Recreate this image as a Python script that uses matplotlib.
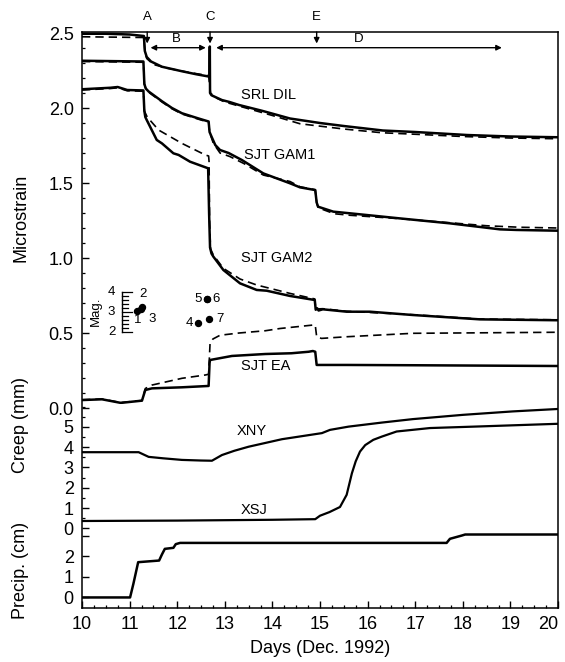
import numpy as np
import matplotlib.pyplot as plt
from matplotlib.transforms import ScaledTranslation

plt.rcParams['font.family'] = ['Liberation Sans', 'DejaVu Sans']

# ---- strain records (microstrain), solid = observed, dashed = corrected ----
srl_day = [10.0, 10.5, 11.0, 11.30, 11.32, 11.36, 11.45, 11.68, 12.1, 12.4, 12.66,
           12.68, 12.685, 12.69, 12.72, 12.94, 13.1, 13.3, 13.8, 14.37, 14.58, 15.0,
           15.5, 16.32, 17.0, 18.09, 19.0, 20.0]
srl_obs = [2.495, 2.495, 2.49, 2.48, 2.38, 2.34, 2.31, 2.275, 2.245, 2.225, 2.21,
           2.21, 2.41, 2.10, 2.085, 2.053, 2.04, 2.02, 1.98, 1.93, 1.92, 1.90,
           1.88, 1.85, 1.84, 1.82, 1.81, 1.805]
srl_cor_day = [10.0, 11.30, 11.32, 11.36, 11.5, 11.8, 12.2, 12.66, 12.70, 12.8, 13.0,
               13.5, 14.0, 14.58, 15.5, 16.3, 17.0, 18.0, 19.0, 20.0]
srl_cor = [2.475, 2.47, 2.38, 2.33, 2.29, 2.265, 2.24, 2.215, 2.10, 2.07, 2.04,
           1.995, 1.95, 1.895, 1.86, 1.835, 1.825, 1.81, 1.80, 1.795]

gam1_day = [10.0, 11.29, 11.31, 11.34, 11.40, 11.68, 11.89, 12.10, 12.45, 12.66, 12.68,
            12.72, 12.80, 12.90, 13.08, 13.36, 13.81, 14.37, 14.58, 14.90, 14.93, 14.96,
            15.28, 15.63, 16.68, 17.73, 18.78, 19.13, 20.0]
gam1_obs = [2.315, 2.31, 2.16, 2.13, 2.11, 2.045, 2.0, 1.965, 1.93, 1.91, 1.84,
            1.81, 1.753, 1.72, 1.70, 1.653, 1.564, 1.498, 1.471, 1.453, 1.37, 1.342,
            1.309, 1.298, 1.264, 1.231, 1.191, 1.187, 1.182]
gam1_cor_day = [10.0, 11.29, 11.31, 11.34, 11.40, 11.68, 11.89, 12.10, 12.45, 12.66, 12.68,
                12.76, 12.90, 13.11, 13.4, 13.81, 14.37, 14.58, 14.90, 14.93, 14.96,
                15.3, 15.63, 16.68, 17.73, 18.5, 19.2, 20.0]
gam1_cor = [2.31, 2.305, 2.16, 2.13, 2.105, 2.04, 1.995, 1.96, 1.925, 1.905, 1.84,
            1.764, 1.70, 1.676, 1.63, 1.553, 1.51, 1.475, 1.455, 1.37, 1.335,
            1.295, 1.285, 1.262, 1.235, 1.215, 1.205, 1.20]

gam2_day = [10.0, 10.6, 10.75, 10.95, 11.29, 11.31, 11.33, 11.36, 11.57, 11.68, 11.92,
            12.03, 12.27, 12.65, 12.67, 12.69, 12.72, 12.76, 12.97, 13.32, 13.67, 13.88,
            14.37, 14.89, 14.91, 14.94, 14.97, 15.06, 15.56, 16.05, 16.95, 18.36, 20.0]
gam2_obs = [2.125, 2.135, 2.14, 2.12, 2.117, 1.98, 1.94, 1.92, 1.787, 1.764, 1.698,
            1.687, 1.642, 1.598, 1.30, 1.07, 1.03, 1.009, 0.92, 0.831, 0.787, 0.782,
            0.747, 0.72, 0.655, 0.665, 0.650, 0.658, 0.642, 0.642, 0.62, 0.591, 0.585]
gam2_cor_day = [10.0, 10.6, 10.75, 10.95, 11.29, 11.31, 11.37, 11.61, 12.10, 12.59, 12.66,
                12.67, 12.68, 12.70, 12.76, 12.97, 13.32, 13.67, 14.37, 14.89, 14.91, 15.06,
                15.56, 16.95, 18.36, 20.0]
gam2_cor = [2.12, 2.13, 2.135, 2.115, 2.112, 1.98, 1.94, 1.853, 1.764, 1.687, 1.68,
            1.64, 1.25, 1.06, 1.02, 0.931, 0.86, 0.82, 0.764, 0.727, 0.66, 0.662,
            0.645, 0.622, 0.593, 0.588]

ea_day = [10.0, 10.42, 10.80, 10.84, 11.26, 11.30, 11.33, 11.47, 12.10, 12.66, 12.68,
          12.69, 13.15, 13.85, 14.40, 14.76, 14.85, 14.90, 14.93, 15.56, 17.0, 20.0]
ea_obs = [0.053, 0.058, 0.035, 0.035, 0.049, 0.09, 0.12, 0.131, 0.138, 0.147, 0.30,
          0.32, 0.347, 0.36, 0.365, 0.375, 0.38, 0.375, 0.287, 0.287, 0.285, 0.28]
ea_cor_day = [10.0, 10.42, 10.80, 10.84, 11.26, 11.33, 11.47, 12.10, 12.59, 12.66, 12.69,
              12.75, 12.9, 13.3, 13.85, 14.16, 14.85, 14.90, 14.93, 15.03, 15.56, 16.95, 20.0]
ea_cor = [0.055, 0.06, 0.037, 0.037, 0.05, 0.13, 0.153, 0.198, 0.22, 0.225, 0.43,
          0.46, 0.485, 0.50, 0.515, 0.53, 0.553, 0.553, 0.475, 0.464, 0.475, 0.498, 0.505]

# ---- creepmeters (mm) ----
xny_day = [10.0, 11.19, 11.40, 11.7, 12.1, 12.5, 12.73, 12.94, 13.2, 13.5, 14.2, 15.04,
           15.21, 15.6, 16.3, 16.95, 18.0, 19.05, 20.0]
xny_mm = [3.75, 3.75, 3.52, 3.45, 3.37, 3.34, 3.33, 3.61, 3.82, 4.02, 4.39, 4.69,
          4.85, 5.01, 5.21, 5.38, 5.59, 5.76, 5.88]
xsj_day = [10.0, 12.0, 14.0, 14.9, 15.0, 15.2, 15.42, 15.56, 15.67, 15.75, 15.84, 15.95,
           16.12, 16.3, 16.61, 17.31, 18.36, 20.0]
xsj_mm = [0.36, 0.38, 0.42, 0.45, 0.62, 0.80, 1.05, 1.65, 2.71, 3.3, 3.78, 4.1,
          4.36, 4.52, 4.77, 4.94, 5.02, 5.15]

# ---- precipitation (cm) ----
rain_day = [10.0, 11.01, 11.08, 11.18, 11.62, 11.68, 11.74, 11.92, 11.97, 12.06, 17.66,
            17.73, 17.98, 18.05, 20.0]
rain_cm = [0.0, 0.0, 0.67, 1.72, 1.80, 2.10, 2.37, 2.42, 2.60, 2.66, 2.66,
           2.86, 3.02, 3.07, 3.07]

# ---- earthquakes ----
eq_num = ['1', '2', '3', '4', '5', '6', '7']
eq_day = [11.16, 11.27, 11.24, 12.43, 12.62, 12.62, 12.67]
eq_mag = [3.06, 3.26, 3.15, 2.43, 3.65, 3.65, 2.65]
eq_offset = [(0, -7), (0.5, 9), (8, -7), (-6, 0), (-6, 0), (6.5, 0), (8, 0)]

# stacked sections share one axis in microstrain units
CREEP0, CREEP_K = -0.802, 0.1353
RAIN0, RAIN_K = -1.263, 0.1367
MAG0, MAG_K, MAG_X = 0.507, 0.1333, 10.85


def creep(v):
    return CREEP0 + CREEP_K * np.asarray(v)


def rain(v):
    return RAIN0 + RAIN_K * np.asarray(v)


def mag(v):
    return MAG0 + MAG_K * (np.asarray(v) - 2)


fig = plt.figure(figsize=(5.65, 6.62), dpi=100)
ax = fig.add_axes([82 / 565, 1 - 608 / 662, 476 / 565, 576 / 662])

dash = dict(color='k', lw=1.2, ls=(0, (5, 3)))
solid = dict(color='k', lw=1.8, solid_joinstyle='round')
for d, v in [(srl_cor_day, srl_cor), (gam1_cor_day, gam1_cor),
             (gam2_cor_day, gam2_cor), (ea_cor_day, ea_cor)]:
    ax.plot(d, v, **dash)
for d, v in [(srl_day, srl_obs), (gam1_day, gam1_obs),
             (gam2_day, gam2_obs), (ea_day, ea_obs)]:
    ax.plot(d, v, **solid)

ax.plot(xny_day, creep(xny_mm), color='k', lw=1.6)
ax.plot(xsj_day, creep(xsj_mm), color='k', lw=1.6)
ax.plot(rain_day, rain(rain_cm), color='k', lw=1.8)

# curve labels
lab = dict(fontsize=10.5, ha='center', va='center')
ax.text(13.92, 2.087, 'SRL DIL', **lab)
ax.text(14.16, 1.687, 'SJT GAM1', **lab)
ax.text(14.1, 0.998, 'SJT GAM2', **lab)
ax.text(13.85, 0.28, 'SJT EA', **lab)
ax.text(13.56, creep(4.8), 'XNY', **lab)
ax.text(13.61, creep(0.89), 'XSJ', **lab)

# magnitude scale and events
ax.plot([MAG_X, MAG_X], [mag(2), mag(4)], color='k', lw=1.0)
for m in np.arange(2, 4.01, 0.2):
    ln = 0.21 if abs(m - round(m)) < 1e-6 else 0.12
    ax.plot([MAG_X, MAG_X + ln], [mag(m)] * 2, color='k', lw=0.9)
for m in [2, 3, 4]:
    ax.text(10.62, mag(m), str(m), fontsize=9.5, ha='center', va='center')
ax.text(10.29, mag(3.05), 'Mag.', fontsize=9.5, rotation=90, ha='center', va='center')
ax.plot(eq_day, mag(eq_mag), 'o', color='k', ms=4.3)
for n, d, m, off in zip(eq_num, eq_day, eq_mag, eq_offset):
    ax.annotate(n, (d, mag(m)), xytext=off, textcoords='offset points',
                fontsize=9.5, ha='center', va='center')

# event markers along the top
top = 2.5067
for x, s in [(11.37, 'A'), (12.69, 'C'), (14.93, 'E')]:
    ax.annotate('', xy=(x, 2.43), xytext=(x, top),
                arrowprops=dict(arrowstyle='-|>', color='k', lw=1.0, mutation_scale=8,
                                shrinkA=0, shrinkB=0))
    ax.text(x, 2.61, s, fontsize=9.5, ha='center', va='center', clip_on=False)
for x0, x1, xt, s in [(11.44, 12.60, 11.99, 'B'), (12.82, 18.82, 15.82, 'D')]:
    ax.annotate('', xy=(x1, 2.402), xytext=(x0, 2.402),
                arrowprops=dict(arrowstyle='<|-|>', color='k', lw=1.0, mutation_scale=8,
                                shrinkA=0, shrinkB=0))
    ax.text(xt, 2.462, s, fontsize=9.5, ha='center', va='center')

# axes and ticks
ax.set_xlim(10, 20)
ax.set_ylim(-1.3333, top)
ax.set_xticks(range(10, 21))
ax.set_xticks(np.arange(10, 20.01, 0.25), minor=True)

strain_ticks = [0.0, 0.5, 1.0, 1.5, 2.0, 2.5]
creep_ticks = [0, 1, 2, 3, 4, 5]
rain_ticks = [0, 1, 2, 3]
ypos = strain_ticks + list(creep(creep_ticks)) + list(rain(rain_ticks))
ylab = ['%.1f' % v for v in strain_ticks] + [str(v) for v in creep_ticks] + ['0', '1', '2', '']
ax.set_yticks(ypos, ylab)
minor = list(np.arange(0, 2.51, 0.1)) + list(creep(np.arange(0.5, 6.01, 0.5)))
ax.set_yticks(minor, minor=True)

ax.tick_params(axis='both', which='both', direction='in', top=False, right=False,
               labelsize=13)
ax.tick_params(axis='both', which='major', length=5, width=1.0)
ax.tick_params(axis='both', which='minor', length=2.5, width=0.9)
ax.tick_params(axis='y', pad=6)
ax.tick_params(axis='x', pad=6)
for sp in ax.spines.values():
    sp.set_linewidth(1.1)

# last day label pulled inside the figure edge
last = ax.xaxis.get_major_ticks()[-1].label1
last.set_transform(last.get_transform() + ScaledTranslation(-7 / 72, 0, fig.dpi_scale_trans))

ax.set_xlabel('Days (Dec. 1992)', fontsize=13, labelpad=5)
fig.text(21 / 565, 1 - 218 / 662, 'Microstrain', rotation=90, fontsize=13,
         ha='center', va='center')
fig.text(21 / 565, 1 - 425 / 662, 'Creep (mm)', rotation=90, fontsize=13,
         ha='center', va='center')
fig.text(21 / 565, 1 - 570 / 662, 'Precip. (cm)', rotation=90, fontsize=13,
         ha='center', va='center')

fig.savefig('out.png', dpi=100)
